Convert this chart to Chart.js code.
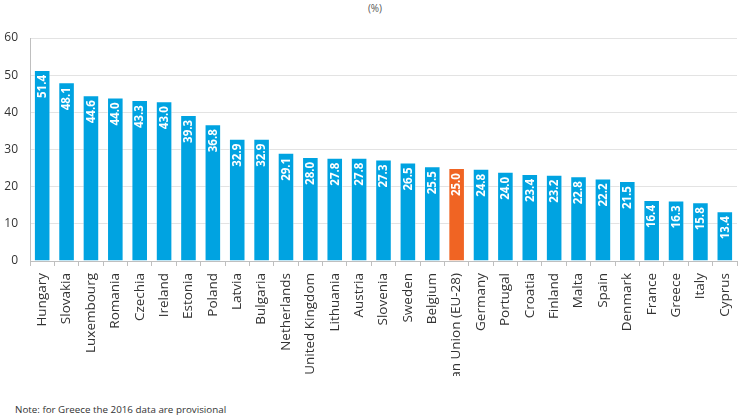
<!DOCTYPE html>
<html>
<head>
<meta charset="utf-8">
<script src="https://cdn.jsdelivr.net/npm/chart.js@4"></script>
<style>
  html, body { margin: 0; padding: 0; background: #fff; }
  body { width: 750px; height: 420px; position: relative; overflow: hidden; font-family: "Open Sans", Lato, sans-serif; }
  #wrap { position: absolute; left: 0; top: 0; width: 750px; height: 376px; }
  #unit { position: absolute; top: 1px; left: 0; width: 750px; text-align: center; font-size: 10px; color: #555; }
  #note { position: absolute; left: 15px; top: 403px; font-size: 9.8px; color: #333; }
</style>
</head>
<body>
<div id="unit">(%)</div>
<div id="wrap"><canvas id="c"></canvas></div>
<div id="note">Note: for Greece the 2016 data are provisional</div>
<script>
const categories = ["Hungary","Slovakia","Luxembourg","Romania","Czechia","Ireland","Estonia","Poland","Latvia","Bulgaria","Netherlands","United Kingdom","Lithuania","Austria","Slovenia","Sweden","Belgium","European Union (EU-28)","Germany","Portugal","Croatia","Finland","Malta","Spain","Denmark","France","Greece","Italy","Cyprus"];
const values = [51.4,48.1,44.6,44.0,43.3,43.0,39.3,36.8,32.9,32.9,29.1,28.0,27.8,27.8,27.3,26.5,25.5,25.0,24.8,24.0,23.4,23.2,22.8,22.2,21.5,16.4,16.3,15.8,13.4];
const yTicks = [0,10,20,30,40,50,60];

const BLUE = '#00A3E1';
const ORANGE = '#F06423';
const colors = categories.map(c => c.startsWith('European Union') ? ORANGE : BLUE);
const FONT = '"Open Sans", Lato, sans-serif';

const valueLabels = {
  id: 'valueLabels',
  afterDatasetsDraw(chart) {
    const ctx = chart.ctx;
    const meta = chart.getDatasetMeta(0);
    ctx.save();
    ctx.fillStyle = '#ffffff';
    ctx.font = 'bold 11.5px ' + FONT;
    ctx.textAlign = 'right';
    ctx.textBaseline = 'middle';
    meta.data.forEach((bar, i) => {
      ctx.save();
      ctx.translate(bar.x + 0.5, bar.y + 5);
      ctx.rotate(-Math.PI / 2);
      ctx.fillText(values[i].toFixed(1), 0, 0);
      ctx.restore();
    });
    ctx.restore();
  }
};

new Chart(document.getElementById('c'), {
  type: 'bar',
  data: {
    labels: categories,
    datasets: [{
      data: values,
      backgroundColor: colors,
      borderColor: 'rgba(255,255,255,0.45)',
      borderWidth: 1,
      barPercentage: 0.68,
      categoryPercentage: 1.0
    }]
  },
  options: {
    responsive: true,
    maintainAspectRatio: false,
    animation: false,
    layout: { padding: { top: 38, right: 13, left: 0, bottom: 0 } },
    plugins: { legend: { display: false }, tooltip: { enabled: false } },
    scales: {
      x: {
        offset: true,
        grid: { display: true, drawOnChartArea: false, drawTicks: true, tickLength: 5, color: '#bfbfbf', offset: true },
        border: { display: true, color: '#bfbfbf' },
        ticks: { autoSkip: false, maxRotation: 90, minRotation: 90, padding: 7, color: '#333', font: { size: 13.5, family: FONT } },
        afterFit(scale) { scale.height = 115; }
      },
      y: {
        min: 0, max: 60,
        afterBuildTicks(scale) { scale.ticks = yTicks.map(v => ({ value: v })); },
        grid: { color: '#e3e3e3', drawTicks: false },
        border: { display: true, color: '#bfbfbf' },
        ticks: { padding: 12, color: '#333', font: { size: 12, family: FONT } },
        afterFit(scale) { scale.width = 30; }
      }
    }
  },
  plugins: [valueLabels]
});
</script>
</body>
</html>
